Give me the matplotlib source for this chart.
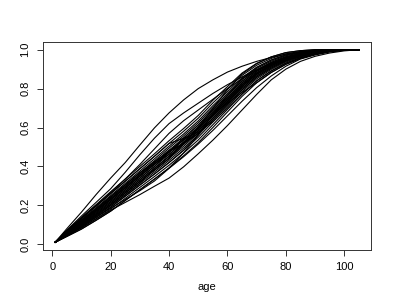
import matplotlib
matplotlib.use("Agg")
import matplotlib.pyplot as plt

plt.rcParams['font.family'] = ['Liberation Sans', 'DejaVu Sans']

ages = [1, 5, 10, 15, 20, 25, 30, 35, 40, 45, 50, 55, 60, 65, 70, 75, 80, 85, 90, 95, 100, 105]

# outer curves
top1 = [.010, .080, .165, .255, .340, .420, .510, .598, .675, .742, .800, .845, .885, .915, .940, .960, .977, .988, .995, .999, 1, 1]
top2 = [.010, .072, .145, .215, .285, .370, .460, .545, .620, .675, .725, .775, .820, .860, .897, .930, .955, .975, .988, .996, 1, 1]
top3 = [.010, .068, .135, .200, .265, .335, .410, .490, .570, .635, .690, .745, .800, .850, .893, .927, .953, .972, .986, .995, .999, 1]
bot1 = [.010, .045, .085, .130, .175, .215, .255, .298, .340, .398, .465, .535, .610, .690, .770, .845, .900, .940, .966, .983, .994, 1]
bot2 = [.010, .047, .090, .138, .185, .230, .275, .325, .390, .450, .515, .585, .660, .735, .805, .865, .915, .952, .973, .988, .997, 1]

# the dense band in the middle
band = [
    [.010, .040, .078, .123, .170, .225, .280, .335, .392, .455, .522, .600, .680, .760, .830, .883, .925, .955, .976, .991, .998, 1],
    [.010, .043, .084, .131, .180, .236, .292, .348, .406, .469, .536, .614, .693, .772, .840, .891, .931, .959, .978, .992, .998, 1],
    [.010, .046, .090, .139, .190, .247, .304, .361, .420, .483, .550, .628, .706, .784, .850, .899, .937, .963, .981, .993, .998, 1],
    [.010, .048, .095, .145, .198, .255, .313, .371, .431, .494, .561, .639, .716, .793, .858, .905, .942, .966, .983, .994, .999, 1],
    [.010, .051, .099, .151, .205, .264, .322, .381, .441, .504, .571, .649, .726, .802, .865, .911, .946, .969, .984, .995, .999, 1],
    [.010, .053, .104, .157, .213, .272, .331, .390, .452, .515, .582, .660, .735, .811, .873, .917, .951, .972, .986, .995, .999, 1],
    [.010, .055, .108, .163, .220, .280, .340, .400, .462, .525, .592, .670, .745, .820, .880, .923, .955, .975, .988, .996, .999, 1],
    [.010, .057, .113, .169, .228, .288, .349, .410, .473, .536, .603, .681, .755, .829, .888, .929, .960, .978, .990, .997, .999, 1],
    [.010, .060, .117, .175, .235, .297, .358, .420, .483, .546, .613, .691, .765, .838, .895, .935, .964, .981, .992, .998, 1, 1],
    [.010, .062, .122, .181, .243, .305, .367, .429, .494, .557, .624, .702, .774, .847, .903, .941, .969, .984, .993, .998, 1, 1],
    [.010, .064, .126, .187, .250, .313, .376, .439, .504, .567, .634, .712, .784, .856, .910, .947, .973, .987, .995, .999, 1, 1],
    [.010, .067, .132, .195, .260, .324, .388, .452, .518, .581, .648, .726, .797, .868, .920, .955, .979, .991, .998, 1, 1, 1],
    [.010, .070, .138, .203, .270, .335, .400, .465, .532, .595, .662, .740, .810, .880, .930, .963, .985, .995, 1, 1, 1, 1],
    [.010, .040, .078, .123, .170, .225, .280, .335, .392, .469, .561, .670, .745, .820, .880, .923, .955, .975, .988, .996, .999, 1],
    [.010, .067, .132, .195, .260, .324, .388, .452, .518, .545, .575, .630, .700, .772, .840, .891, .931, .959, .978, .992, .998, 1],
    [.010, .046, .090, .139, .190, .247, .304, .361, .420, .483, .565, .668, .765, .850, .908, .947, .973, .987, .995, .999, 1, 1],
    [.010, .062, .122, .181, .243, .305, .367, .425, .475, .520, .570, .639, .716, .793, .858, .905, .942, .966, .983, .994, .999, 1],
    [.010, .051, .099, .151, .205, .264, .322, .381, .441, .515, .600, .698, .795, .875, .928, .963, .985, .995, 1, 1, 1, 1],
    [.010, .058, .114, .171, .230, .291, .352, .413, .476, .538, .600, .668, .725, .780, .830, .883, .925, .955, .976, .991, .998, 1],
    # extra curves packed round the middle of the band
    [.010, .053, .104, .157, .213, .272, .331, .390, .452, .515, .603, .681, .755, .829, .888, .929, .960, .978, .990, .997, .999, 1],
    [.010, .057, .113, .169, .228, .288, .349, .410, .473, .536, .582, .660, .735, .811, .873, .917, .951, .972, .986, .995, .999, 1],
    [.010, .055, .108, .163, .220, .280, .340, .400, .473, .546, .613, .691, .765, .838, .895, .935, .964, .981, .992, .998, 1, 1],
    [.010, .051, .099, .151, .205, .264, .322, .381, .441, .525, .592, .670, .745, .820, .880, .923, .955, .975, .988, .996, .999, 1],
    [.010, .060, .117, .175, .235, .297, .358, .420, .483, .515, .571, .649, .726, .802, .865, .911, .946, .969, .984, .995, .999, 1],
    [.010, .048, .095, .145, .198, .255, .313, .390, .452, .515, .582, .660, .735, .811, .873, .917, .951, .972, .986, .995, .999, 1],
    [.010, .062, .122, .181, .243, .305, .367, .415, .462, .525, .592, .670, .745, .820, .880, .923, .955, .975, .988, .996, .999, 1],
]

curves = [top1, top2, top3, bot1, bot2] + band

fig = plt.figure(figsize=(3.93, 3.04), dpi=100)
ax = fig.add_axes([43 / 393, 1 - 250 / 304, 328 / 393, 208 / 304])

for c in curves:
    ax.plot(ages, c, color="black", lw=0.8)

ax.set_xlim(-3.16, 109.16)
ax.set_ylim(-0.0296, 1.0396)
ax.set_xticks([0, 20, 40, 60, 80, 100])
ax.set_yticks([0.0, 0.2, 0.4, 0.6, 0.8, 1.0])
ax.set_yticklabels(["0.0", "0.2", "0.4", "0.6", "0.8", "1.0"])
for lbl in ax.get_yticklabels():
    lbl.set_rotation(90)
    lbl.set_va("center")
ax.tick_params(length=4, width=0.7, pad=5, labelsize=8, color="#333333")
ax.set_xlabel("age", fontsize=8, labelpad=7)
for s in ax.spines.values():
    s.set_linewidth(0.7)
    s.set_color("#333333")

fig.savefig("out.png", dpi=100)
